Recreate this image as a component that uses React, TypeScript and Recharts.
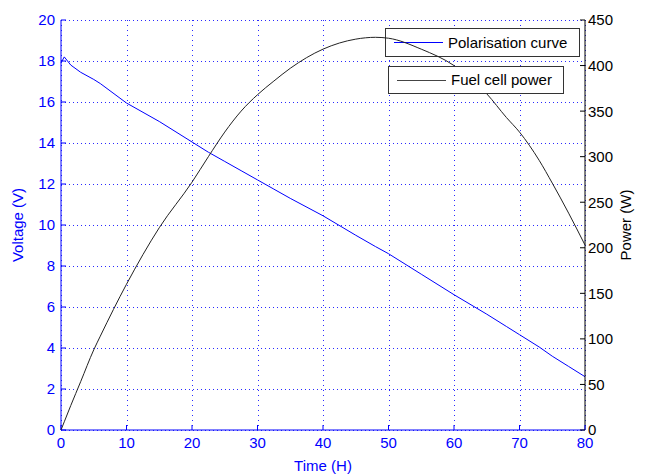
import { LineChart, Line, XAxis, YAxis, CartesianGrid } from 'recharts'

const TIME_H = [0, 0.5, 1.5, 3, 5, 6, 10, 15, 20, 22.5, 25, 27.5, 30, 32.5, 35, 40, 45, 48, 50, 55, 60, 65, 68, 70, 73, 75, 77.5, 80]
const VOLTAGE_V = [17.9, 18.2, 17.8, 17.45, 17.1, 16.9, 15.95, 15.05, 14.05, 13.55, 13.1, 12.65, 12.2, 11.75, 11.3, 10.45, 9.5, 8.95, 8.6, 7.6, 6.6, 5.65, 5.05, 4.65, 4.05, 3.6, 3.1, 2.6]
const POWER_W = [0, 9, 27, 53, 88, 103, 160, 222, 272, 300, 327, 350, 368, 383, 397, 418, 429, 431, 430, 418, 400, 369, 343, 327, 296, 271, 238, 203]

const TIME_TICKS = [0, 10, 20, 30, 40, 50, 60, 70, 80]
const VOLTAGE_TICKS = [0, 2, 4, 6, 8, 10, 12, 14, 16, 18, 20]
const POWER_TICKS = [0, 50, 100, 150, 200, 250, 300, 350, 400, 450]

const rows = TIME_H.map((t, i) => ({ t, voltage: VOLTAGE_V[i], power: POWER_W[i] }))

const W = 648
const H = 476
const FONT = '"Liberation Sans", Arial, sans-serif'
const BLUE = '#0000ff'
const GRID = '#2a2aff'
const TICK_LEN = 5

function LeftTick({ x, y, payload }: any) {
  const ax = x + 6
  return (
    <g>
      <line x1={ax} x2={ax + TICK_LEN} y1={y} y2={y} stroke={BLUE} />
      <text x={x} y={y} dy="0.36em" textAnchor="end" fill={BLUE} fontSize={15} fontFamily={FONT}>
        {payload.value}
      </text>
    </g>
  )
}

function RightTick({ x, y, payload }: any) {
  const ax = x - 3
  return (
    <g>
      <line x1={ax - TICK_LEN} x2={ax} y1={y} y2={y} stroke="#000" />
      <text x={x} y={y} dy="0.36em" textAnchor="start" fill="#000" fontSize={15} fontFamily={FONT}>
        {payload.value}
      </text>
    </g>
  )
}

function BottomTick({ x, y, payload }: any) {
  const ay = y - 4
  return (
    <g>
      <line x1={x} x2={x} y1={ay} y2={ay - TICK_LEN} stroke={BLUE} />
      <text x={x} y={ay + 18} textAnchor="middle" fill={BLUE} fontSize={15} fontFamily={FONT}>
        {payload.value}
      </text>
    </g>
  )
}

// dotted grid lines, snapped to whole pixels
function HGrid(p: any) {
  const y = Math.round(p.y1) + 0.5
  return <line key={p.key} x1={p.x1} x2={p.x2} y1={y} y2={y} stroke={GRID} strokeWidth={1} strokeDasharray="1 3" />
}

function VGrid(p: any) {
  const x = Math.round(p.x1) + 0.5
  return <line key={p.key} x1={x} x2={x} y1={p.y1} y2={p.y2} stroke={GRID} strokeWidth={1} strokeDasharray="1 4" />
}

const legendBox = {
  position: 'absolute' as const,
  background: '#fff',
  border: '1px solid #333',
  boxSizing: 'border-box' as const,
  fontFamily: FONT,
  fontSize: 15,
  color: '#000',
}

function LegendEntry({ left, top, width, height, color, label, lineLeft }: any) {
  return (
    <div style={{ ...legendBox, left, top, width, height }}>
      <div style={{ position: 'absolute', left: lineLeft, top: height / 2 - 1.5, width: 49, height: 1, background: color }} />
      <div style={{ position: 'absolute', left: lineLeft + 54, top: 0, lineHeight: `${height - 2}px`, whiteSpace: 'nowrap' }}>
        {label}
      </div>
    </div>
  )
}

export default function App() {
  return (
    <div style={{ position: 'absolute', left: 0, top: 0, width: W, height: H, background: '#fff' }}>
      <div style={{ position: 'absolute', left: 0, top: 0 }}>
        <LineChart width={W} height={H} data={rows} margin={{ top: 20, right: 0, bottom: 0, left: 0 }}>
          <CartesianGrid yAxisId="left" stroke={GRID} horizontal={HGrid} vertical={VGrid} />
          <XAxis
            dataKey="t"
            type="number"
            domain={[0, 80]}
            ticks={TIME_TICKS}
            height={46}
            stroke={BLUE}
            tickSize={0}
            tickMargin={4}
            tick={<BottomTick />}
            label={{
              content: ({ viewBox }: any) => (
                <text x={viewBox.x + viewBox.width / 2} y={viewBox.y + 41} textAnchor="middle" fill={BLUE} fontSize={15} fontFamily={FONT}>
                  Time (H)
                </text>
              ),
            }}
          />
          <YAxis
            yAxisId="left"
            domain={[0, 20]}
            ticks={VOLTAGE_TICKS}
            width={61}
            stroke={BLUE}
            tickSize={0}
            tickMargin={6}
            tick={<LeftTick />}
            label={{
              content: ({ viewBox }: any) => {
                const cx = 23
                const cy = viewBox.y + viewBox.height / 2
                return (
                  <text x={cx} y={cy} transform={`rotate(-90 ${cx} ${cy})`} textAnchor="middle" fill={BLUE} fontSize={15} fontFamily={FONT}>
                    Voltage (V)
                  </text>
                )
              },
            }}
          />
          <YAxis
            yAxisId="right"
            orientation="right"
            domain={[0, 450]}
            ticks={POWER_TICKS}
            width={63}
            stroke="#000"
            tickSize={0}
            tickMargin={3}
            tick={<RightTick />}
            label={{
              content: ({ viewBox }: any) => {
                const cx = 631
                const cy = viewBox.y + viewBox.height / 2
                return (
                  <text x={cx} y={cy} transform={`rotate(-90 ${cx} ${cy})`} textAnchor="middle" fill="#000" fontSize={15} fontFamily={FONT}>
                    Power (W)
                  </text>
                )
              },
            }}
          />
          <Line yAxisId="left" dataKey="voltage" type="linear" stroke={BLUE} strokeWidth={1} dot={false} isAnimationActive={false} />
          <Line yAxisId="right" dataKey="power" type="linear" stroke="#000" strokeOpacity={0} dot={false} isAnimationActive={false} />
        </LineChart>
      </div>
      <LegendEntry left={385} top={28} width={195} height={29} color={BLUE} label="Polarisation curve" lineLeft={8} />
      <div style={{ position: 'absolute', left: 0, top: 0, pointerEvents: 'none' }}>
        <LineChart width={W} height={H} data={rows} margin={{ top: 20, right: 63, bottom: 46, left: 61 }}>
          <XAxis dataKey="t" type="number" domain={[0, 80]} hide />
          <YAxis domain={[0, 450]} hide />
          <Line dataKey="power" type="monotone" stroke="#222" strokeWidth={1} dot={false} isAnimationActive={false} />
        </LineChart>
      </div>
      <LegendEntry left={388} top={66} width={176} height={28} color="#444" label="Fuel cell power" lineLeft={8} />
    </div>
  )
}
